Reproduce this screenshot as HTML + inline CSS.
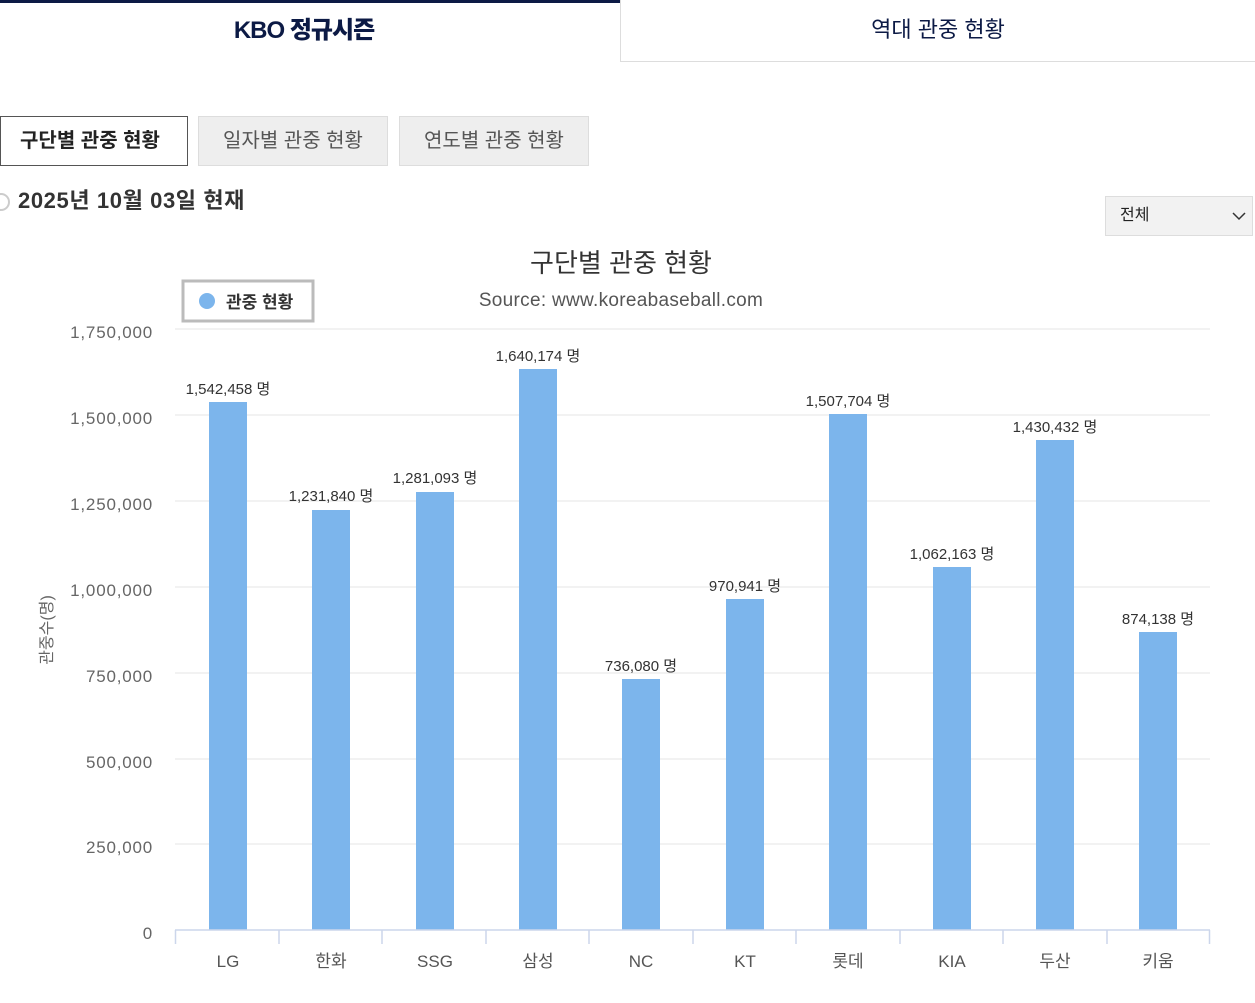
<!DOCTYPE html>
<html><head><meta charset="utf-8"><style>
body{margin:0;width:1255px;height:1003px;background:#fff;overflow:hidden;font-family:"Liberation Sans","Noto Sans CJK KR",sans-serif;position:relative}
.a{position:absolute}
</style></head><body>
<div class="a" style="left:0;top:0;width:620px;height:62px;border-top:3px solid #0c1a45;box-sizing:border-box;text-align:center;font-weight:900;font-size:24px;line-height:56px;color:#0c1a45;letter-spacing:-1px;padding-right:12px">KBO 정규시즌</div>
<div class="a" style="left:620px;top:0;width:635px;height:62px;border-left:1px solid #ddd;border-bottom:1px solid #ddd;box-sizing:border-box;text-align:center;font-size:22px;line-height:60px;color:#0c1a45">역대 관중 현황</div>
<div class="a" style="left:0;top:116px;width:188px;height:50px;border:1px solid #555;box-sizing:border-box;text-align:center;line-height:48px;font-size:20px;font-weight:bold;color:#222;padding-right:8px">구단별 관중 현황</div>
<div class="a" style="left:198px;top:116px;width:190px;height:50px;border:1px solid #ddd;background:#eee;box-sizing:border-box;text-align:center;line-height:48px;font-size:20px;color:#555">일자별 관중 현황</div>
<div class="a" style="left:399px;top:116px;width:190px;height:50px;border:1px solid #ddd;background:#eee;box-sizing:border-box;text-align:center;line-height:48px;font-size:20px;color:#555">연도별 관중 현황</div>
<div class="a" style="left:-8px;top:193px;width:14px;height:14px;border:2px solid #ccc;border-radius:50%"></div>
<div class="a" style="left:18px;top:187px;font-size:22px;font-weight:bold;color:#333;line-height:28px;letter-spacing:0.6px">2025년 10월 03일 현재</div>
<div class="a" style="left:1105px;top:196px;width:148px;height:40px;background:#f2f2f2;border:1px solid #ddd;box-sizing:border-box;font-size:16px;line-height:38px;padding-left:14px;color:#222">전체<svg style="position:absolute;right:6px;top:14px" width="14" height="10"><polyline points="1,2 7,8 13,2" fill="none" stroke="#333" stroke-width="1.5"/></svg></div>
<svg class="a" style="left:0;top:0" width="1255" height="1003" font-family="Liberation Sans, Noto Sans CJK KR, sans-serif">
<text x="621" y="272" text-anchor="middle" font-size="26" fill="#333">구단별 관중 현황</text>
<text x="621" y="306" text-anchor="middle" font-size="19" fill="#555" letter-spacing="0.3">Source: www.koreabaseball.com</text>
<rect x="183" y="281" width="130" height="40" fill="#fff" stroke="#bbb" stroke-width="3"/>
<circle cx="207" cy="301" r="8" fill="#7cb5ec"/>
<text x="226" y="308" font-size="17" font-weight="bold" fill="#333">관중 현황</text>
<g stroke="#e6e6e6" stroke-width="1">
<line x1="175" x2="1210" y1="329" y2="329"/><line x1="175" x2="1210" y1="415" y2="415"/><line x1="175" x2="1210" y1="501" y2="501"/><line x1="175" x2="1210" y1="587" y2="587"/><line x1="175" x2="1210" y1="673" y2="673"/><line x1="175" x2="1210" y1="759" y2="759"/><line x1="175" x2="1210" y1="844" y2="844"/>
</g>
<g font-size="17" fill="#666" text-anchor="end" letter-spacing="0.8">
<text x="153" y="338">1,750,000</text><text x="153" y="424">1,500,000</text><text x="153" y="510">1,250,000</text><text x="153" y="596">1,000,000</text><text x="153" y="682">750,000</text><text x="153" y="768">500,000</text><text x="153" y="853">250,000</text><text x="153" y="939">0</text>
</g>
<text transform="translate(52,630) rotate(-90)" text-anchor="middle" font-size="16" fill="#666">관중수(명)</text>
<g fill="#7cb5ec">
<rect x="209" y="402" width="38" height="528"/><rect x="312" y="510" width="38" height="420"/><rect x="416" y="492" width="38" height="438"/><rect x="519" y="369" width="38" height="561"/><rect x="622" y="679" width="38" height="251"/><rect x="726" y="599" width="38" height="331"/><rect x="829" y="414" width="38" height="516"/><rect x="933" y="567" width="38" height="363"/><rect x="1036" y="440" width="38" height="490"/><rect x="1139" y="632" width="38" height="298"/>
</g>
<g font-size="15" fill="#333" text-anchor="middle">
<text x="228" y="394">1,542,458 명</text><text x="331" y="501">1,231,840 명</text><text x="435" y="483">1,281,093 명</text><text x="538" y="361">1,640,174 명</text><text x="641" y="671">736,080 명</text><text x="745" y="591">970,941 명</text><text x="848" y="406">1,507,704 명</text><text x="952" y="559">1,062,163 명</text><text x="1055" y="432">1,430,432 명</text><text x="1158" y="624">874,138 명</text>
</g>
<g stroke="#ccd6eb" stroke-width="1.5">
<line x1="175" x2="1210" y1="930" y2="930"/>
<line x1="175.5" x2="175.5" y1="930" y2="944"/><line x1="279" x2="279" y1="930" y2="944"/><line x1="382" x2="382" y1="930" y2="944"/><line x1="486" x2="486" y1="930" y2="944"/><line x1="589" x2="589" y1="930" y2="944"/><line x1="693" x2="693" y1="930" y2="944"/><line x1="796" x2="796" y1="930" y2="944"/><line x1="900" x2="900" y1="930" y2="944"/><line x1="1003" x2="1003" y1="930" y2="944"/><line x1="1107" x2="1107" y1="930" y2="944"/><line x1="1209.5" x2="1209.5" y1="930" y2="944"/>
</g>
<g font-size="17" fill="#555" text-anchor="middle">
<text x="228" y="967">LG</text><text x="331" y="967">한화</text><text x="435" y="967">SSG</text><text x="538" y="967">삼성</text><text x="641" y="967">NC</text><text x="745" y="967">KT</text><text x="848" y="967">롯데</text><text x="952" y="967">KIA</text><text x="1055" y="967">두산</text><text x="1158" y="967">키움</text>
</g>
</svg>
</body></html>
